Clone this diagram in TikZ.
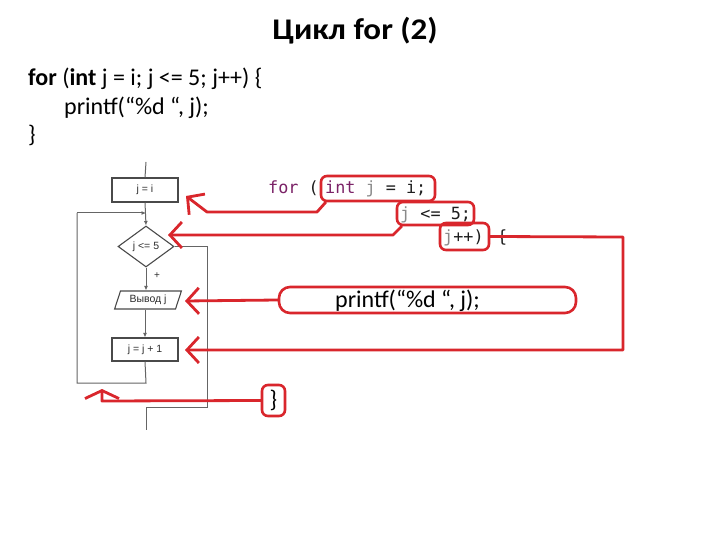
\documentclass[tikz,border=0pt]{standalone}
\usepackage{fontspec}
\setmainfont{Carlito}
\newfontfamily\titlefont[FakeStretch=1.1]{Carlito}
\newfontfamily\codefont{DejaVu Sans Mono}
\newfontfamily\fcfont{Liberation Sans}
\usetikzlibrary{shapes.geometric,arrows.meta,calc}
\definecolor{redl}{HTML}{D9262C}
\definecolor{kw}{HTML}{7B2267}
\definecolor{fcgray}{HTML}{4A4A4A}
\definecolor{fctext}{HTML}{2E2E2E}
\definecolor{codej}{HTML}{8A8A8A}
\definecolor{codetx}{HTML}{1E1E1E}
\begin{document}
\begin{tikzpicture}[x=1pt,y=-1pt,
  fcfontsty/.style={font=\fcfont\fontsize{10.5}{11}\selectfont,text=fctext},
  fcbox/.style={draw=fcgray,line width=1.1pt,minimum width=66pt,minimum height=24pt,inner sep=0pt,fcfontsty},
  fcdia/.style={diamond,draw=fcgray,line width=1.1pt,minimum width=56pt,minimum height=41pt,inner sep=0pt,fcfontsty},
  fcpar/.style={trapezium,trapezium left angle=68,trapezium right angle=112,trapezium stretches=true,draw=fcgray,line width=1.1pt,minimum width=67pt,minimum height=18pt,inner sep=0pt,fcfontsty},
  fcline/.style={draw=fcgray!85,line width=1pt},
  fcarrow/.style={fcline,-{Latex[length=4.5pt,width=4pt]}},
  redbox/.style={draw=redl,line width=2.6pt,rounded corners=6pt,inner sep=0pt},
  redline/.style={draw=redl,line width=2.8pt,line join=round,line cap=round},
  redarrow/.style={redline,-{Straight Barb[length=12pt,width=26pt,line width=2.8pt]}},
  codetxt/.style={anchor=base west,inner sep=0pt,font=\codefont\fontsize{16.8}{20}\selectfont,text=codetx},
  maintxt/.style={anchor=base west,inner sep=0pt,font=\fontsize{24}{28}\selectfont}
]
\useasboundingbox[fill=white] (0,0) rectangle (720,540);

% title
\node[anchor=base,inner sep=0pt,font=\titlefont\bfseries\fontsize{30}{34}\selectfont] (title) at (355,40) {Цикл for (2)};

% code at top
\node[maintxt] (l1) at (28,86) {\textbf{for} (\textbf{int} j = i; j <= 5; j++) \{};
\node[maintxt] (l2) at (64,114.5) {printf(“\%d “, j);};
\node[maintxt] (l3) at (28,143) {\}};

% flowchart
\node[fcbox] (b1) at (145,190) {j = i};
\node[fcdia] (d) at (146,246.5) {j <= 5};
\node[fcpar] (p) at (148,300) {Вывод j};
\node[fcbox,minimum height=23pt] (b2) at (145,349.5) {j = j + 1};
\coordinate (top) at (146,162);
\coordinate (m) at (146,213);
\coordinate (q1) at (146,383);
\coordinate (q2) at (77,383);
\coordinate (q3) at (77,213);
\coordinate (e1) at (207,246.5);
\coordinate (e2) at (207,407);
\coordinate (e3) at (146,407);
\coordinate (e4) at (146,430);
\draw[fcline] (top) -- (b1.north);
\draw[fcarrow] (b1.south) -- (d.north);
\draw[fcarrow] (d.south) -- (d.south |- p.north);
\draw[fcarrow] (b2.north |- p.south) -- (b2.north);
\draw[fcline] (b2.south) -- (q1) -- (q2) -- (q3);
\draw[fcarrow] (q3) -- (m);
\draw[fcline] (d.east) -- (e1) -- (e2) -- (e3) -- (e4);
\node[font=\fcfont\fontsize{10}{11}\selectfont,text=fctext,inner sep=0pt] (plus) at (157,276) {+};
\node[font=\fcfont\fontsize{7}{8}\selectfont,text=fctext,inner sep=0pt] (minus) at (183,236) {-};

% code fragments
\node[codetxt] (cfor) at (268,194) {\textcolor{kw}{for} (};
\node[codetxt] (c1) at (325,194) {\textcolor{kw}{int} \textcolor{codej}{j} = i;};
\node[codetxt] (c2) at (400,219) {\textcolor{codej}{j} <= 5;};
\node[codetxt] (c3) at (443,243) {\textcolor{codej}{j}++)};
\node[codetxt] (c4) at (497,243) {\{};
\node[maintxt] (cpr) at (335,307) {printf(“\%d “, j);};
\node[maintxt,anchor=center] (cbr) at (273.5,400.5) {\}};

% red boxes
\node[redbox,minimum width=114pt,minimum height=25pt] (ra) at (378,188.5) {};
\node[redbox,minimum width=77pt,minimum height=23pt] (rb) at (435.5,213.5) {};
\node[redbox,minimum width=49pt,minimum height=27pt] (rc) at (464.5,236.5) {};
\node[redbox,rounded corners=11pt,minimum width=297pt,minimum height=26pt] (rd) at (427.5,300) {};
\node[redbox,minimum width=23pt,minimum height=31pt] (re) at (273.5,400.5) {};

% red arrows
\coordinate (tA) at (186,196);
\coordinate (tB) at (168,235);
\coordinate (tC) at (185,350);
\coordinate (tD) at (185,301);
\coordinate (tE) at (102,389);
\draw[redarrow] ($(ra.south west)+(6,0)$) -- (317,212) -- (207,212) -- (tA);
\draw[redarrow] ($(rb.south west)+(6,0)$) -- (393,235) -- (tB);
\draw[redarrow] (rc.east) -- (623,237) -- (623,350) -- (tC);
\draw[redarrow] (rd.west) -- (tD);
\draw[redline,-{Straight Barb[length=8pt,width=34pt,line width=2.8pt]}] (re.west) -- (102,401) -- (tE);
\end{tikzpicture}
\end{document}
